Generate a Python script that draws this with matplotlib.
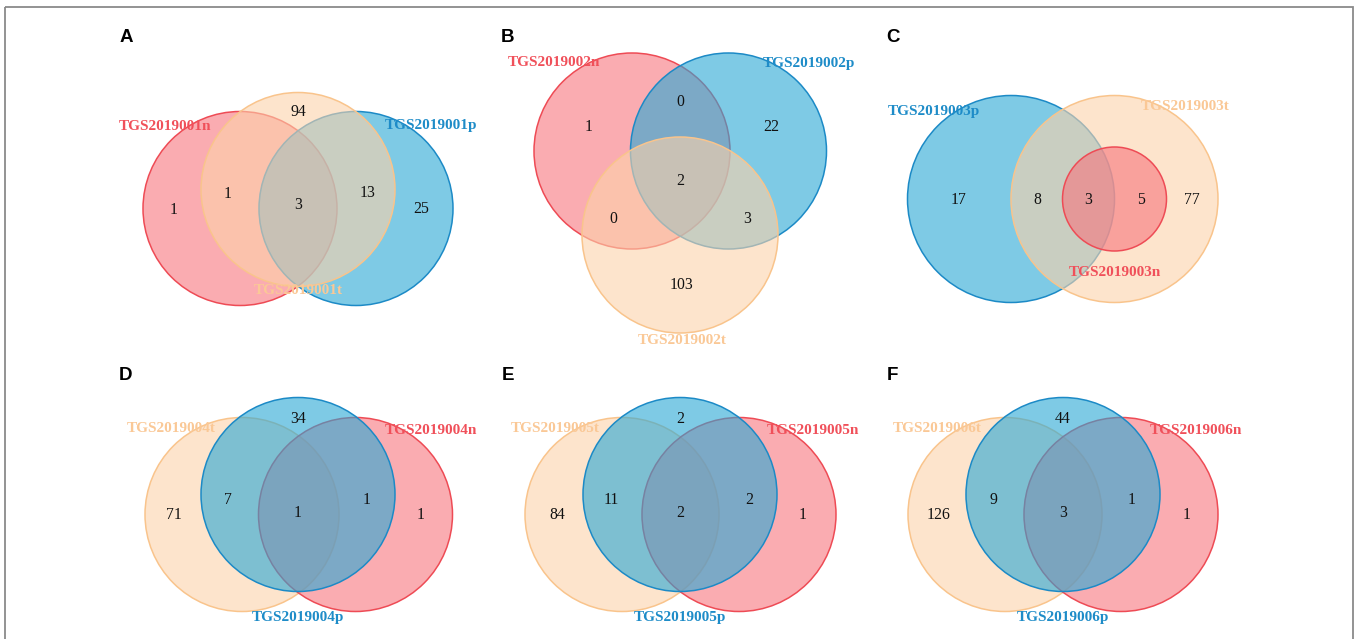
import matplotlib
matplotlib.use("Agg")
import matplotlib.pyplot as plt
from matplotlib.patches import Circle, Rectangle

# ---------------------------------------------------------------- data
panel_letters = ["A", "B", "C", "D", "E", "F"]
sample_ids = ["TGS2019001", "TGS2019002", "TGS2019003",
              "TGS2019004", "TGS2019005", "TGS2019006"]
set_suffixes = ["n", "p", "t"]

# number of features in each region of the diagram
# (keys list the sets that share the region)
counts_A = {"n": 1, "t": 94, "p": 25, "nt": 1, "pt": 13, "npt": 3}
counts_B = {"n": 1, "p": 22, "np": 0, "npt": 2, "nt": 0, "pt": 3, "t": 103}
counts_C = {"p": 17, "pt": 8, "npt": 3, "nt": 5, "t": 77}
counts_D = {"t": 71, "p": 34, "n": 1, "pt": 7, "npt": 1, "np": 1}
counts_E = {"t": 84, "p": 2, "n": 1, "pt": 11, "npt": 2, "np": 2}
counts_F = {"t": 126, "p": 44, "n": 1, "pt": 9, "npt": 3, "np": 1}
panel_counts = [counts_A, counts_B, counts_C, counts_D, counts_E, counts_F]

# ---------------------------------------------------------------- styles
fill_colors = {"n": (247/255, 117/255, 125/255),
               "p": (40/255, 167/255, 213/255),
               "t": (252/255, 210/255, 170/255)}
edge_colors = {"n": "#ee4b55", "p": "#1c8ac6", "t": "#f9c48c"}
label_colors = {"n": "#f0505a", "p": "#1e8cc8", "t": "#fac896"}
FILL_ALPHA = 0.6

# ---------------------------------------------------------------- layout (pixels)
W, H = 1359, 639

# circle (cx, cy, r) per set, drawing order, set label and count positions
layouts = [
    dict(circles={"n": (240, 208.5, 97), "t": (298, 189.5, 97), "p": (356, 208.5, 97)},
         order=["n", "p", "t"],
         labels={"n": (165, 126), "p": (431, 126), "t": (298, 290)},
         spots={"n": (174, 210), "nt": (228, 194), "npt": (298, 205),
                "pt": (368, 193), "p": (421, 209), "t": (298, 112)},
         letter=(126, 37)),
    dict(circles={"n": (632, 151, 98), "p": (728.5, 151, 98), "t": (680, 235, 98)},
         order=["n", "p", "t"],
         labels={"n": (554, 63), "p": (809, 63), "t": (682, 341)},
         spots={"np": (680, 102), "n": (589, 127), "p": (771, 127),
                "npt": (680, 181), "nt": (613, 219), "pt": (747, 219),
                "t": (681, 285)},
         letter=(508, 37)),
    dict(circles={"p": (1011, 199, 103.5), "t": (1114.5, 199, 103.5),
                  "n": (1114.5, 199, 52)},
         order=["p", "t", "n"],
         labels={"p": (934, 112), "t": (1185, 107), "n": (1115, 273)},
         spots={"p": (959, 200), "pt": (1037, 200), "npt": (1088, 200),
                "nt": (1141, 200), "t": (1192, 200)},
         letter=(893, 37)),
    dict(circles={"t": (242, 514.5, 97), "p": (298, 494.5, 97), "n": (355.5, 514.5, 97)},
         order=["t", "n", "p"],
         labels={"t": (171, 428), "n": (431, 431), "p": (298, 617)},
         spots={"p": (298, 419), "t": (174, 515), "pt": (228, 500),
                "npt": (298, 513), "np": (367, 500), "n": (421, 515)},
         letter=(126, 375)),
    dict(circles={"t": (622, 514.5, 97), "p": (680, 494.5, 97), "n": (739, 514.5, 97)},
         order=["t", "n", "p"],
         labels={"t": (555, 428), "n": (813, 431), "p": (680, 617)},
         spots={"p": (680, 419), "t": (557, 515), "pt": (611, 500),
                "npt": (680, 513), "np": (749, 500), "n": (803, 515)},
         letter=(508, 375)),
    dict(circles={"t": (1005, 514.5, 97), "p": (1063, 494.5, 97), "n": (1121, 514.5, 97)},
         order=["t", "n", "p"],
         labels={"t": (937, 428), "n": (1196, 431), "p": (1063, 617)},
         spots={"p": (1063, 419), "t": (939, 515), "pt": (993, 500),
                "npt": (1063, 513), "np": (1132, 500), "n": (1187, 515)},
         letter=(892, 375)),
]

# ---------------------------------------------------------------- drawing
fig = plt.figure(figsize=(W / 100, H / 100), dpi=100)
ax = fig.add_axes([0, 0, 1, 1])
ax.set_xlim(0, W)
ax.set_ylim(H, 0)
ax.axis("off")

serif = ["Liberation Serif", "DejaVu Serif"]
sans = ["Liberation Sans", "DejaVu Sans"]

for letter, sample, counts, lay in zip(panel_letters, sample_ids,
                                       panel_counts, layouts):
    for z, key in enumerate(lay["order"]):
        cx, cy, r = lay["circles"][key]
        face = fill_colors[key] + (FILL_ALPHA,)
        ax.add_patch(Circle((cx, cy), r, facecolor=face,
                            edgecolor=edge_colors[key], linewidth=1.1,
                            zorder=2 + z))
    for key in set_suffixes:
        lx, ly = lay["labels"][key]
        ax.text(lx, ly, sample + key, ha="center", va="center",
                fontsize=11, fontweight="bold", family=serif,
                color=label_colors[key], zorder=10)
    for region, value in counts.items():
        tx, ty = lay["spots"][region]
        ax.text(tx, ty, str(value), ha="center", va="center",
                fontsize=11.3, family=serif, color="#111111", zorder=11)
    px, py = lay["letter"]
    ax.text(px, py, letter, ha="center", va="center", fontsize=13.5,
            fontweight="bold", family=sans, color="black", zorder=11)

# outer frame of the figure
ax.add_patch(Rectangle((4.5, 6.5), 1348, 660, fill=False,
                       edgecolor="#8a8a8a", linewidth=1.3, zorder=20,
                       clip_on=False))

fig.savefig("out.png", dpi=100)
